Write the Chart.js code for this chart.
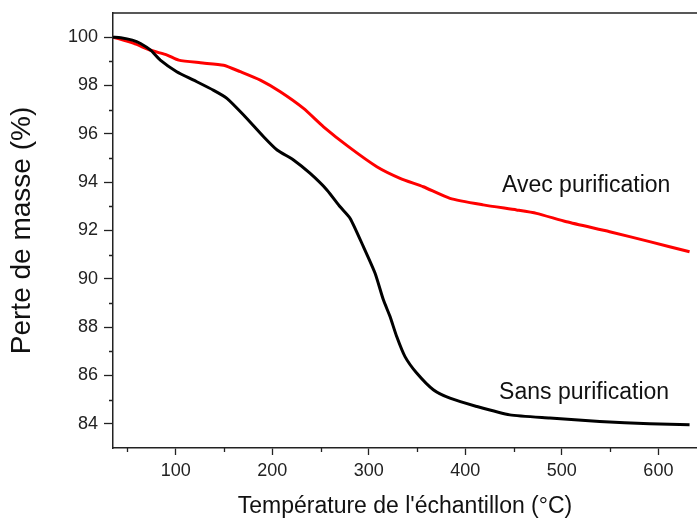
<!DOCTYPE html>
<html>
<head>
<meta charset="utf-8">
<script src="https://cdn.jsdelivr.net/npm/chart.js@4.4.1/dist/chart.umd.min.js"></script>
<style>
  html, body { margin: 0; padding: 0; background: #fff; }
  #wrap { width: 697px; height: 520px; }
</style>
</head>
<body>
<div id="wrap"><canvas id="tga"></canvas></div>
<script>
// temperature (°C) / mass (%)
const tempSans = [35, 43, 55, 63.5, 74, 84, 101, 118.6, 139.3, 153, 170.3, 191, 205, 222, 239, 256.6, 270.3, 280.7, 294.4, 306.5, 315.1, 322, 328.9, 337.5, 349.6, 366.8, 384.1, 411.7, 446.1, 487.5, 539.2, 590.9, 632.3];
const masseSans = [100.0, 99.98, 99.88, 99.74, 99.46, 99.05, 98.57, 98.22, 97.8, 97.47, 96.78, 95.88, 95.33, 94.92, 94.37, 93.68, 92.98, 92.5, 91.33, 90.23, 89.13, 88.44, 87.61, 86.78, 86.1, 85.41, 85.06, 84.72, 84.37, 84.24, 84.1, 84.0, 83.96];

const tempAvec = [35.3, 56.6, 73.8, 91.1, 103.1, 125.5, 149.6, 166.9, 187.6, 208.3, 232.4, 253.1, 278.9, 308.3, 332.4, 356.5, 384.1, 418.5, 453.1, 473.7, 504.8, 549.5, 590.9, 632.3];
const masseAvec = [100.0, 99.74, 99.46, 99.26, 99.05, 98.94, 98.84, 98.57, 98.22, 97.74, 97.05, 96.29, 95.47, 94.64, 94.16, 93.81, 93.33, 93.06, 92.85, 92.71, 92.36, 91.95, 91.54, 91.12];

const xTicks = [100, 200, 300, 400, 500, 600];
const xMinor = [50, 150, 250, 350, 450, 550];
const yTicks = [84, 86, 88, 90, 92, 94, 96, 98, 100];
const yMinor = [85, 87, 89, 91, 93, 95, 97, 99];

const labels = [
  { text: 'Avec purification', x: 438, y: 93.85 },
  { text: 'Sans purification', x: 435, y: 85.3 }
];

const FONT = "'Liberation Sans', Arial, sans-serif";

// minor ticks, top border and curve labels
const extras = {
  id: 'extras',
  afterDraw(chart) {
    const ctx = chart.ctx;
    const xs = chart.scales.x, ys = chart.scales.y;
    const area = chart.chartArea;
    ctx.save();
    ctx.strokeStyle = '#222';
    ctx.lineWidth = 1.3;
    ctx.beginPath();
    xMinor.forEach(v => {
      const px = Math.round(xs.getPixelForValue(v)) + 0.5;
      ctx.moveTo(px, area.bottom);
      ctx.lineTo(px, area.bottom + 4);
    });
    yMinor.forEach(v => {
      const py = Math.round(ys.getPixelForValue(v)) + 0.5;
      ctx.moveTo(area.left, py);
      ctx.lineTo(area.left - 4, py);
    });
    ctx.moveTo(area.left, area.top);
    ctx.lineTo(area.right, area.top);
    ctx.stroke();

    ctx.fillStyle = '#111';
    ctx.font = '23px ' + FONT;
    ctx.textAlign = 'left';
    ctx.textBaseline = 'middle';
    labels.forEach(l => {
      ctx.fillText(l.text, xs.getPixelForValue(l.x), ys.getPixelForValue(l.y));
    });
    ctx.restore();
  }
};

new Chart(document.getElementById('tga'), {
  type: 'scatter',
  data: {
    datasets: [
      {
        label: 'Sans purification',
        data: tempSans.map((t, i) => ({ x: t, y: masseSans[i] })),
        showLine: true,
        borderColor: '#000',
        borderWidth: 3,
        pointRadius: 0,
        tension: 0.2
      },
      {
        label: 'Avec purification',
        data: tempAvec.map((t, i) => ({ x: t, y: masseAvec[i] })),
        showLine: true,
        borderColor: '#ff0000',
        borderWidth: 3,
        pointRadius: 0,
        tension: 0.2
      }
    ]
  },
  options: {
    responsive: true,
    maintainAspectRatio: false,
    animation: false,
    layout: { padding: { top: 13, right: 0, left: 0, bottom: 0 } },
    plugins: {
      legend: { display: false },
      tooltip: { enabled: false }
    },
    scales: {
      x: {
        type: 'linear',
        min: 35,
        max: 640,
        afterBuildTicks: s => { s.ticks = xTicks.map(v => ({ value: v })); },
        afterFit: s => { s.height = 72; s.paddingLeft = 0; s.paddingRight = 0; },
        grid: { drawOnChartArea: false, tickLength: 7, tickColor: '#222', tickWidth: 1.3 },
        border: { color: '#222', width: 1.5 },
        ticks: { color: '#222', padding: 5, maxRotation: 0, font: { family: FONT, size: 18 } },
        title: {
          display: true,
          text: "Température de l'échantillon (°C)",
          color: '#111',
          padding: { top: 0, bottom: 0 },
          font: { family: FONT, size: 23 }
        }
      },
      y: {
        min: 83,
        max: 101,
        afterBuildTicks: s => { s.ticks = yTicks.map(v => ({ value: v })); },
        afterFit: s => { s.width = 113; s.paddingTop = 0; s.paddingBottom = 0; },
        grid: { drawOnChartArea: false, tickLength: 9, tickColor: '#222', tickWidth: 1.3 },
        border: { color: '#222', width: 1.5 },
        ticks: { color: '#222', padding: 6, font: { family: FONT, size: 18 } },
        title: {
          display: true,
          text: 'Perte de masse (%)',
          color: '#111',
          padding: { top: 5, bottom: 0 },
          font: { family: FONT, size: 28 }
        }
      }
    }
  },
  plugins: [extras]
});
</script>
</body>
</html>
